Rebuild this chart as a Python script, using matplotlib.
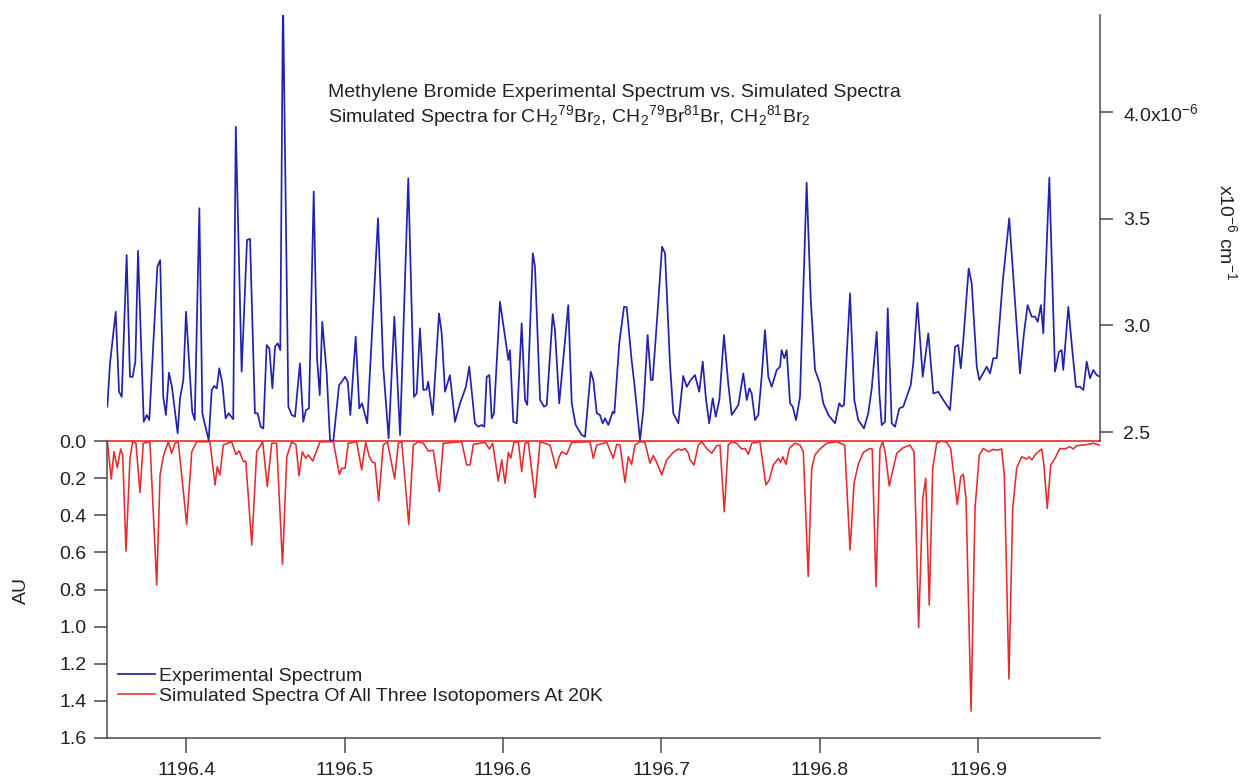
import matplotlib
matplotlib.use("Agg")
import matplotlib.pyplot as plt

plt.rcParams['font.family'] = ['Liberation Sans', 'DejaVu Sans']
plt.rcParams['mathtext.fontset'] = 'custom'
plt.rcParams['mathtext.rm'] = 'Liberation Sans'
plt.rcParams['mathtext.default'] = 'regular'

# experimental spectrum (x10^-6 cm^-1), right axis
blue_x = [1196.3502, 1196.3519, 1196.3555, 1196.3576, 1196.3593, 1196.3624, 1196.3645, 1196.3662, 1196.3679, 1196.3696,
          1196.3713, 1196.3732, 1196.3751, 1196.3767, 1196.3818, 1196.3836, 1196.3855, 1196.3872, 1196.3891, 1196.3910,
          1196.3946, 1196.3961, 1196.3982, 1196.3999, 1196.4020, 1196.4038, 1196.4054, 1196.4083, 1196.4102, 1196.4114,
          1196.4142, 1196.4161, 1196.4177, 1196.4193, 1196.4209, 1196.4228, 1196.4249, 1196.4268, 1196.4297, 1196.4313,
          1196.4350, 1196.4384, 1196.4403, 1196.4434, 1196.4451, 1196.4470, 1196.4487, 1196.4508, 1196.4525, 1196.4544,
          1196.4561, 1196.4578, 1196.4594, 1196.4611, 1196.4645, 1196.4666, 1196.4687, 1196.4718, 1196.4739, 1196.4756,
          1196.4775, 1196.4805, 1196.4826, 1196.4843, 1196.4859, 1196.4887, 1196.4908, 1196.4929, 1196.4965, 1196.4982,
          1196.5003, 1196.5020, 1196.5036, 1196.5070, 1196.5093, 1196.5110, 1196.5143, 1196.5211, 1196.5244, 1196.5278,
          1196.5314, 1196.5350, 1196.5402, 1196.5438, 1196.5455, 1196.5476, 1196.5497, 1196.5518, 1196.5528, 1196.5556,
          1196.5596, 1196.5613, 1196.5634, 1196.5665, 1196.5697, 1196.5729, 1196.5766, 1196.5787, 1196.5823, 1196.5844,
          1196.5866, 1196.5882, 1196.5897, 1196.5914, 1196.5929, 1196.5943, 1196.5981, 1196.6013, 1196.6034, 1196.6044,
          1196.6065, 1196.6087, 1196.6118, 1196.6139, 1196.6153, 1196.6188, 1196.6202, 1196.6234, 1196.6259, 1196.6276,
          1196.6314, 1196.6328, 1196.6355, 1196.6381, 1196.6412, 1196.6434, 1196.6459, 1196.6497, 1196.6518, 1196.6554,
          1196.6570, 1196.6592, 1196.6612, 1196.6629, 1196.6644, 1196.6665, 1196.6693, 1196.6703, 1196.6734, 1196.6764,
          1196.6781, 1196.6812, 1196.6829, 1196.6865, 1196.6886, 1196.6913, 1196.6934, 1196.6945, 1196.6974, 1196.7004,
          1196.7023, 1196.7054, 1196.7075, 1196.7107, 1196.7138, 1196.7160, 1196.7185, 1196.7212, 1196.7239, 1196.7261,
          1196.7282, 1196.7302, 1196.7324, 1196.7343, 1196.7366, 1196.7395, 1196.7422, 1196.7444, 1196.7486, 1196.7517,
          1196.7539, 1196.7555, 1196.7570, 1196.7591, 1196.7612, 1196.7633, 1196.7654, 1196.7675, 1196.7696, 1196.7728,
          1196.7749, 1196.7759, 1196.7776, 1196.7791, 1196.7812, 1196.7829, 1196.7850, 1196.7875, 1196.7917, 1196.7943,
          1196.7970, 1196.8001, 1196.8022, 1196.8054, 1196.8096, 1196.8123, 1196.8138, 1196.8153, 1196.8191, 1196.8218,
          1196.8243, 1196.8279, 1196.8306, 1196.8328, 1196.8359, 1196.8376, 1196.8391, 1196.8412, 1196.8429, 1196.8454,
          1196.8475, 1196.8502, 1196.8527, 1196.8574, 1196.8590, 1196.8616, 1196.8650, 1196.8685, 1196.8717, 1196.8748,
          1196.8780, 1196.8822, 1196.8854, 1196.8874, 1196.8890, 1196.8906, 1196.8940, 1196.8959, 1196.8991, 1196.9007,
          1196.9043, 1196.9054, 1196.9075, 1196.9095, 1196.9117, 1196.9155, 1196.9196, 1196.9232, 1196.9264, 1196.9289,
          1196.9312, 1196.9338, 1196.9359, 1196.9376, 1196.9396, 1196.9411, 1196.9449, 1196.9485, 1196.9510, 1196.9527,
          1196.9537, 1196.9569, 1196.9590, 1196.9617, 1196.9643, 1196.9664, 1196.9685, 1196.9706, 1196.9727, 1196.9748,
          1196.9769]
blue_y = [2.619, 2.822, 3.064, 2.689, 2.665, 3.330, 2.759, 2.759, 2.830, 3.350,
          2.963, 2.548, 2.580, 2.556, 3.275, 3.306, 2.665, 2.580, 2.778, 2.712,
          2.494, 2.658, 2.744, 3.064, 2.806, 2.595, 2.556, 3.549, 2.588, 2.548,
          2.462, 2.697, 2.716, 2.705, 2.799, 2.728, 2.564, 2.588, 2.560, 3.931,
          2.783, 3.400, 3.406, 2.588, 2.588, 2.525, 2.517, 2.908, 2.892, 2.705,
          2.900, 2.916, 2.884, 4.550, 2.619, 2.580, 2.572, 2.822, 2.548, 2.603,
          2.611, 3.627, 2.846, 2.673, 3.017, 2.775, 2.462, 2.458, 2.720, 2.736,
          2.759, 2.736, 2.580, 2.947, 2.611, 2.635, 2.541, 3.502, 2.806, 2.470,
          3.041, 2.486, 3.689, 2.665, 2.681, 2.986, 2.697, 2.700, 2.736, 2.580,
          3.056, 2.963, 2.689, 2.767, 2.548, 2.635, 2.712, 2.806, 2.541, 2.525,
          2.533, 2.525, 2.759, 2.767, 2.564, 2.588, 3.111, 2.947, 2.838, 2.884,
          2.548, 2.541, 3.010, 2.650, 2.627, 3.338, 3.275, 2.650, 2.619, 2.627,
          3.053, 2.978, 2.635, 2.846, 3.095, 2.635, 2.533, 2.486, 2.478, 2.783,
          2.744, 2.588, 2.580, 2.541, 2.564, 2.533, 2.595, 2.588, 2.916, 3.087,
          3.085, 2.838, 2.728, 2.462, 2.603, 2.955, 2.744, 2.744, 3.041, 3.369,
          3.338, 2.822, 2.588, 2.541, 2.763, 2.712, 2.744, 2.767, 2.689, 2.830,
          2.650, 2.541, 2.658, 2.572, 2.650, 2.955, 2.728, 2.580, 2.627, 2.775,
          2.650, 2.705, 2.681, 2.556, 2.580, 2.759, 2.978, 2.759, 2.712, 2.791,
          2.806, 2.884, 2.846, 2.884, 2.635, 2.619, 2.556, 2.665, 3.669, 3.119,
          2.791, 2.728, 2.635, 2.580, 2.541, 2.635, 2.619, 2.627, 3.150, 2.650,
          2.556, 2.517, 2.588, 2.705, 2.970, 2.681, 2.533, 2.548, 3.080, 2.541,
          2.525, 2.611, 2.619, 2.720, 2.822, 3.106, 2.759, 2.963, 2.681, 2.689,
          2.650, 2.603, 2.900, 2.908, 2.799, 2.931, 3.267, 3.197, 2.806, 2.744,
          2.791, 2.806, 2.775, 2.846, 2.846, 3.205, 3.502, 3.119, 2.775, 2.963,
          3.095, 3.041, 3.041, 3.017, 3.095, 2.963, 3.692, 2.783, 2.876, 2.884,
          2.791, 3.087, 2.916, 2.712, 2.712, 2.697, 2.830, 2.752, 2.791, 2.767,
          2.759]

# simulated spectra (AU), left axis, drawn downward
red_x = [1196.3502, 1196.3527, 1196.3544, 1196.3565, 1196.3586, 1196.3599, 1196.3620, 1196.3645, 1196.3662, 1196.3683,
         1196.3708, 1196.3729, 1196.3771, 1196.3814, 1196.3835, 1196.3855, 1196.3887, 1196.3908, 1196.3929, 1196.3950,
         1196.4003, 1196.4035, 1196.4066, 1196.4150, 1196.4182, 1196.4196, 1196.4213, 1196.4234, 1196.4287, 1196.4314,
         1196.4335, 1196.4361, 1196.4376, 1196.4414, 1196.4445, 1196.4483, 1196.4512, 1196.4540, 1196.4571, 1196.4608,
         1196.4635, 1196.4666, 1196.4693, 1196.4712, 1196.4733, 1196.4754, 1196.4771, 1196.4799, 1196.4845, 1196.4929,
         1196.4967, 1196.4982, 1196.5003, 1196.5023, 1196.5076, 1196.5108, 1196.5133, 1196.5156, 1196.5177, 1196.5192,
         1196.5215, 1196.5244, 1196.5270, 1196.5316, 1196.5339, 1196.5361, 1196.5405, 1196.5434, 1196.5465, 1196.5497,
         1196.5528, 1196.5560, 1196.5598, 1196.5623, 1196.5739, 1196.5771, 1196.5792, 1196.5813, 1196.5886, 1196.5914,
         1196.5935, 1196.5970, 1196.5992, 1196.6013, 1196.6034, 1196.6049, 1196.6069, 1196.6097, 1196.6118, 1196.6139,
         1196.6160, 1196.6202, 1196.6234, 1196.6297, 1196.6335, 1196.6355, 1196.6371, 1196.6402, 1196.6434, 1196.6549,
         1196.6570, 1196.6592, 1196.6655, 1196.6696, 1196.6718, 1196.6739, 1196.6770, 1196.6791, 1196.6812, 1196.6833,
         1196.6865, 1196.6896, 1196.6928, 1196.6949, 1196.6970, 1196.7002, 1196.7033, 1196.7075, 1196.7107, 1196.7128,
         1196.7149, 1196.7170, 1196.7181, 1196.7206, 1196.7233, 1196.7254, 1196.7286, 1196.7318, 1196.7349, 1196.7370,
         1196.7397, 1196.7422, 1196.7444, 1196.7475, 1196.7507, 1196.7528, 1196.7549, 1196.7570, 1196.7622, 1196.7660,
         1196.7681, 1196.7706, 1196.7724, 1196.7738, 1196.7753, 1196.7766, 1196.7787, 1196.7807, 1196.7843, 1196.7875,
         1196.7896, 1196.7927, 1196.7949, 1196.7970, 1196.8001, 1196.8044, 1196.8107, 1196.8157, 1196.8191, 1196.8216,
         1196.8243, 1196.8275, 1196.8317, 1196.8331, 1196.8355, 1196.8380, 1196.8397, 1196.8412, 1196.8439, 1196.8454,
         1196.8486, 1196.8527, 1196.8569, 1196.8595, 1196.8624, 1196.8650, 1196.8669, 1196.8691, 1196.8713, 1196.8738,
         1196.8770, 1196.8801, 1196.8826, 1196.8868, 1196.8890, 1196.8906, 1196.8923, 1196.8955, 1196.8980, 1196.9007,
         1196.9032, 1196.9064, 1196.9095, 1196.9117, 1196.9148, 1196.9165, 1196.9194, 1196.9218, 1196.9243, 1196.9275,
         1196.9306, 1196.9323, 1196.9338, 1196.9359, 1196.9379, 1196.9401, 1196.9415, 1196.9436, 1196.9458, 1196.9485,
         1196.9516, 1196.9548, 1196.9580, 1196.9600, 1196.9622, 1196.9664, 1196.9695, 1196.9727, 1196.9765]
red_y = [0.000, 0.205, 0.058, 0.144, 0.043, 0.075, 0.593, 0.093, 0.004, 0.012,
         0.277, 0.012, 0.004, 0.776, 0.183, 0.085, 0.004, 0.066, 0.012, 0.004,
         0.449, 0.058, 0.004, 0.004, 0.237, 0.138, 0.183, 0.022, 0.004, 0.072,
         0.054, 0.111, 0.108, 0.560, 0.058, 0.004, 0.246, 0.012, 0.012, 0.665,
         0.085, 0.005, 0.020, 0.187, 0.058, 0.093, 0.075, 0.108, 0.004, 0.004,
         0.180, 0.147, 0.147, 0.012, 0.004, 0.156, 0.007, 0.085, 0.115, 0.118,
         0.323, 0.022, 0.004, 0.205, 0.012, 0.004, 0.449, 0.022, 0.004, 0.012,
         0.054, 0.050, 0.273, 0.012, 0.004, 0.129, 0.129, 0.018, 0.007, 0.043,
         0.012, 0.216, 0.102, 0.228, 0.061, 0.093, 0.007, 0.004, 0.165, 0.012,
         0.007, 0.305, 0.004, 0.022, 0.147, 0.085, 0.058, 0.072, 0.007, 0.004,
         0.093, 0.022, 0.007, 0.093, 0.018, 0.022, 0.223, 0.085, 0.126, 0.022,
         0.004, 0.007, 0.120, 0.079, 0.115, 0.183, 0.102, 0.061, 0.043, 0.050,
         0.040, 0.066, 0.102, 0.129, 0.022, 0.004, 0.040, 0.066, 0.025, 0.022,
         0.381, 0.022, 0.004, 0.012, 0.043, 0.040, 0.072, 0.012, 0.004, 0.237,
         0.210, 0.129, 0.111, 0.093, 0.115, 0.085, 0.126, 0.040, 0.012, 0.022,
         0.058, 0.730, 0.147, 0.075, 0.043, 0.012, 0.004, 0.022, 0.587, 0.228,
         0.126, 0.061, 0.040, 0.045, 0.785, 0.040, 0.004, 0.058, 0.243, 0.183,
         0.066, 0.036, 0.022, 0.058, 1.006, 0.309, 0.201, 0.884, 0.147, 0.012,
         0.000, 0.007, 0.040, 0.341, 0.192, 0.180, 0.309, 1.455, 0.363, 0.075,
         0.040, 0.058, 0.045, 0.050, 0.043, 0.183, 1.282, 0.363, 0.147, 0.085,
         0.097, 0.085, 0.102, 0.075, 0.058, 0.043, 0.129, 0.363, 0.129, 0.093,
         0.040, 0.043, 0.030, 0.043, 0.025, 0.022, 0.018, 0.012, 0.022]

x_ticks = [1196.4, 1196.5, 1196.6, 1196.7, 1196.8, 1196.9]
au_ticks = [0.0, 0.2, 0.4, 0.6, 0.8, 1.0, 1.2, 1.4, 1.6]
exp_ticks = [2.5, 3.0, 3.5, 4.0]
exp_tick_labels = ['2.5', '3.0', '3.5', '4.0x10$^{-6}$']

BLUE = '#2222b0'
RED = '#e62a2e'
AXC = '#4a4a4a'
TXT = '#222222'

W, H = 1242, 782
fig = plt.figure(figsize=(W / 100, H / 100), dpi=100)
ax_lo = fig.add_axes([107 / W, 1 - 738 / H, 993 / W, 297 / H])
ax_hi = fig.add_axes([107 / W, 1 - 441 / H, 993 / W, 426 / H])
ax_hi.patch.set_alpha(0)

line_exp, = ax_hi.plot(blue_x, blue_y, color=BLUE, lw=1.25, label='Experimental Spectrum')
line_sim, = ax_lo.plot(red_x, red_y, color=RED, lw=1.15,
                       label='Simulated Spectra Of All Three Isotopomers At 20K')
ax_lo.axhline(0, color=RED, lw=1.2, clip_on=False, zorder=3)

xlim = (1196.35, 1196.9769)
ax_lo.set_xlim(*xlim)
ax_hi.set_xlim(*xlim)
ax_lo.set_ylim(1.6, 0.0)
ax_hi.set_ylim(2.458, 4.455)

for s in ['top', 'right']:
    ax_lo.spines[s].set_visible(False)
for s in ['left', 'bottom']:
    ax_lo.spines[s].set_color(AXC)
    ax_lo.spines[s].set_linewidth(1.1)
for s in ['top', 'left', 'bottom']:
    ax_hi.spines[s].set_visible(False)
ax_hi.spines['right'].set_color(AXC)
ax_hi.spines['right'].set_linewidth(1.1)

ax_lo.set_xticks(x_ticks)
ax_lo.set_xticklabels([f'{t:.1f}' for t in x_ticks])
ax_lo.set_yticks(au_ticks)
ax_lo.set_yticklabels([f'{t:.1f}' for t in au_ticks])
ax_lo.tick_params(axis='x', length=11, width=1.1, pad=6, color=AXC, labelsize=14, labelcolor=TXT)
ax_lo.tick_params(axis='y', length=9.5, width=1.1, pad=5, color=AXC, labelsize=14, labelcolor=TXT)

ax_hi.set_xticks([])
ax_hi.yaxis.tick_right()
ax_hi.set_yticks(exp_ticks)
ax_hi.set_yticklabels(exp_tick_labels)
ax_hi.tick_params(axis='y', length=9.5, width=1.1, pad=7, color=AXC, labelsize=14, labelcolor=TXT)

fig.text(21 / W, 1 - 590 / H, 'AU', rotation=90, ha='center', va='center', fontsize=14, color=TXT)
fig.text(1227 / W, 1 - 232 / H, 'x10$^{-6}$ cm$^{-1}$', rotation=-90, ha='center', va='center',
         fontsize=14, color=TXT)

fig.text(328 / W, 1 - 97 / H, 'Methylene Bromide Experimental Spectrum vs. Simulated Spectra',
         ha='left', va='baseline', fontsize=14, color=TXT)
fig.text(328 / W, 1 - 122 / H,
         'Simulated Spectra for CH$_2$$^{79}$Br$_2$, CH$_2$$^{79}$Br$^{81}$Br, CH$_2$$^{81}$Br$_2$',
         ha='left', va='baseline', fontsize=14, color=TXT)

ax_lo.legend(handles=[line_exp, line_sim], loc='upper left', bbox_to_anchor=(118 / W, 1 - 667 / H),
             bbox_transform=fig.transFigure, frameon=False, fontsize=14, borderpad=0, borderaxespad=0,
             handlelength=1.9, handletextpad=0.2, labelspacing=0.15, labelcolor=TXT)

fig.savefig('out.png', dpi=100)
